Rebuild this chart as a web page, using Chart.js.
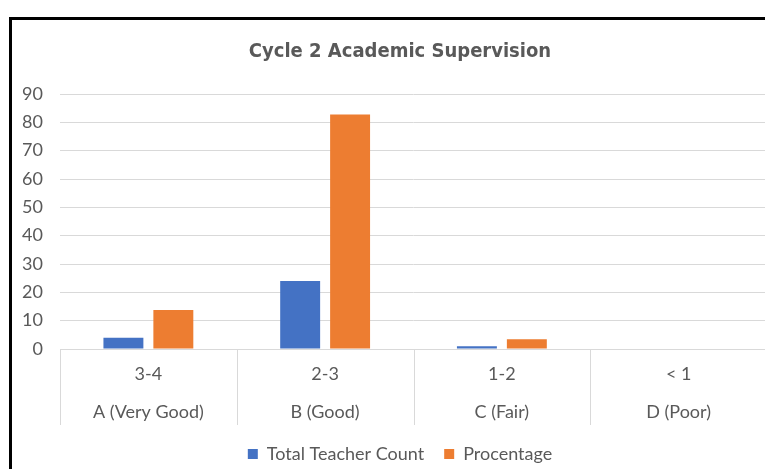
<!DOCTYPE html>
<html>
<head>
<meta charset="utf-8">
<script src="https://cdn.jsdelivr.net/npm/chart.js@4.4.1/dist/chart.umd.min.js"></script>
<style>
  html, body { margin: 0; padding: 0; background: #fff; overflow: hidden; }
  #frame {
    position: absolute; left: 9px; top: 17px; width: 800px; height: 500px;
    border-top: 3px solid #000; border-left: 3px solid #000;
  }
  #wrap { position: absolute; left: 0; top: 20px; width: 790px; height: 453px; }
</style>
</head>
<body>
<div id="frame"></div>
<div id="wrap"><canvas id="chart"></canvas></div>
<script>
// data
var ranges = ['3-4', '2-3', '1-2', '< 1'];
var grades = ['A (Very Good)', 'B (Good)', 'C (Fair)', 'D (Poor)'];
var teacherCount = [4, 24, 1, 0];
var percentage = [13.8, 82.8, 3.4, 0];
var yTicks = [0, 10, 20, 30, 40, 50, 60, 70, 80, 90];

var labels = ranges.map(function (r, i) { return [r, grades[i]]; });

// vertical separators under the axis, between categories
var separators = {
  id: 'separators',
  afterDraw: function (chart) {
    var x = chart.scales.x;
    var ctx = chart.ctx;
    var step = x.getPixelForValue(1) - x.getPixelForValue(0);
    ctx.save();
    ctx.strokeStyle = '#d9d9d9';
    ctx.lineWidth = 1;
    for (var i = 0; i <= labels.length; i++) {
      var px = Math.round(x.getPixelForValue(i) - step / 2) + 0.5;
      ctx.beginPath();
      ctx.moveTo(px, x.top);
      ctx.lineTo(px, x.top + 76);
      ctx.stroke();
    }
    ctx.restore();
  }
};

Chart.defaults.font.family = 'Lato';
Chart.defaults.color = '#595959';

new Chart(document.getElementById('chart').getContext('2d'), {
  type: 'bar',
  data: {
    labels: labels,
    datasets: [{
      label: 'Total Teacher Count',
      data: teacherCount,
      backgroundColor: '#4472C4'
    }, {
      label: 'Procentage',
      data: percentage,
      backgroundColor: '#ED7D31'
    }]
  },
  options: {
    responsive: true,
    maintainAspectRatio: false,
    animation: false,
    categoryPercentage: 0.565,
    barPercentage: 0.8,
    layout: { padding: { left: 22, right: 12, top: 0, bottom: 0 } },
    plugins: {
      title: {
        display: true,
        text: 'Cycle 2 Academic Supervision',
        color: '#595959',
        font: { family: '"DejaVu Sans Condensed"', size: 20, weight: 'bold' },
        padding: { top: 20, bottom: 30 }
      },
      legend: {
        position: 'bottom',
        labels: {
          boxWidth: 10, boxHeight: 10, padding: 20,
          font: { size: 18 }, color: '#595959'
        }
      },
      tooltip: { enabled: false }
    },
    scales: {
      x: {
        grid: { display: false },
        border: { display: true, color: '#d9d9d9', width: 1 },
        ticks: { font: { size: 18, lineHeight: 2.1 }, color: '#595959', padding: -2, maxRotation: 0 },
        afterFit: function (s) { s.height = 76; }
      },
      y: {
        min: 0, max: 90,
        grid: { color: '#d9d9d9', drawTicks: false },
        border: { display: false },
        ticks: {
          stepSize: 10, padding: 17, font: { size: 18 }, color: '#595959',
          callback: function (v) { return yTicks.indexOf(v) >= 0 ? v : null; }
        },
        afterFit: function (s) { s.width = 38; }
      },
      // empty right-hand spacer so the title and legend centre like the original
      spacer: {
        type: 'linear',
        position: 'right',
        display: true,
        grid: { display: false },
        border: { display: false },
        ticks: { display: false },
        afterFit: function (s) { s.width = 11; }
      }
    }
  },
  plugins: [separators]
});
</script>
</body>
</html>
